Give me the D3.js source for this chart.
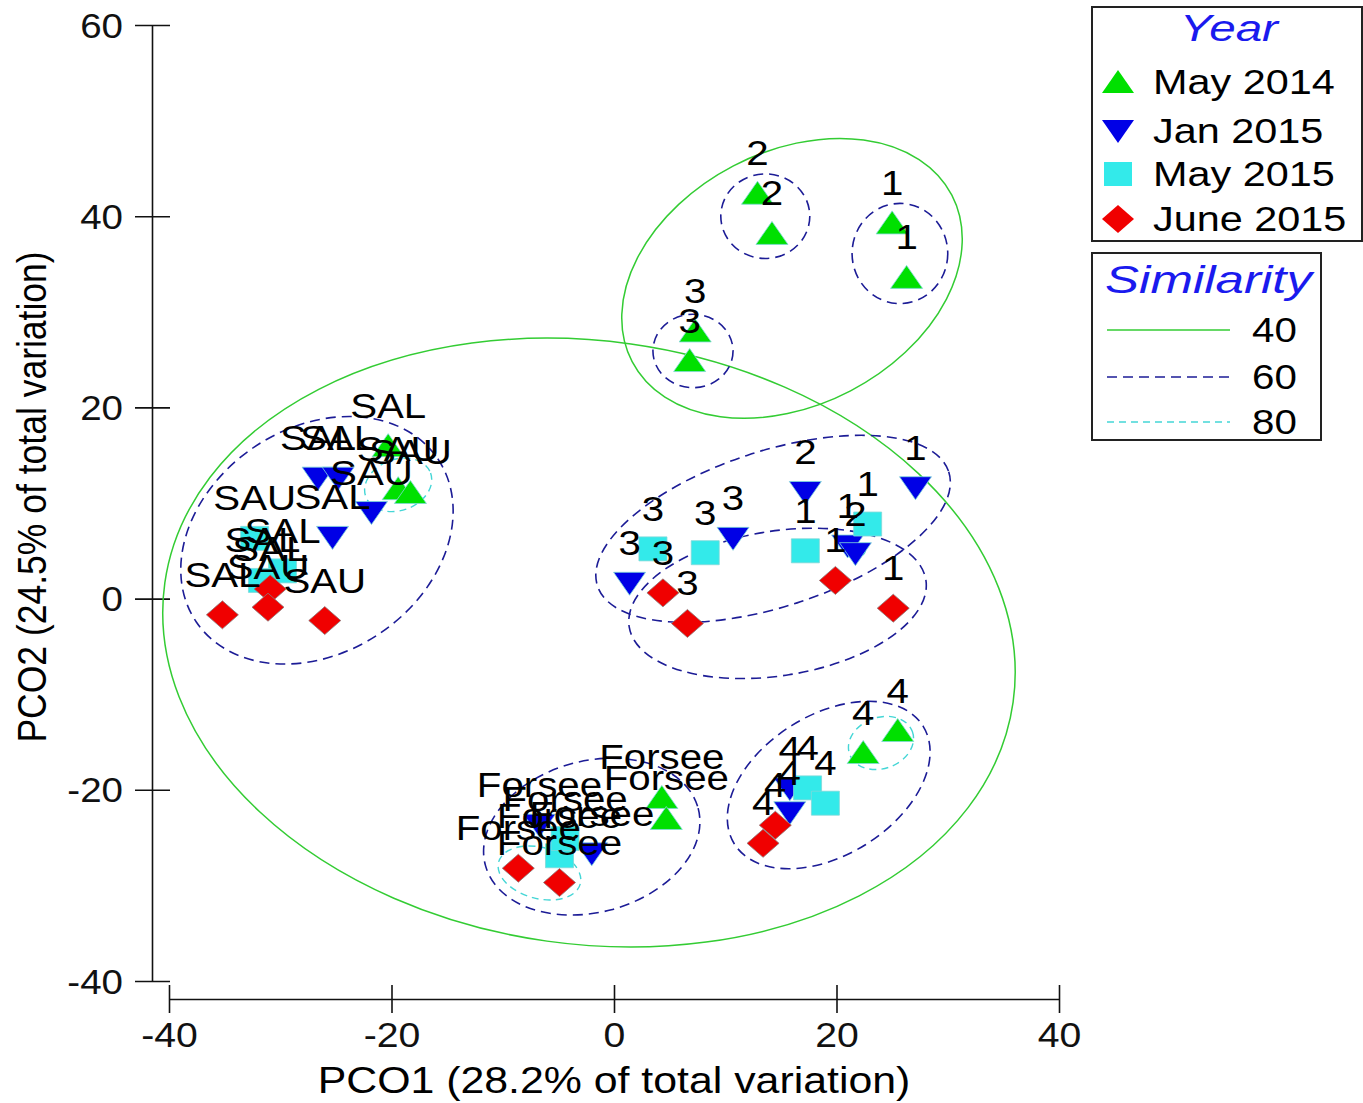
<!DOCTYPE html>
<html lang="en">
<head>
<meta charset="utf-8">
<title>PCO ordination</title>
<script src="https://cdn.jsdelivr.net/npm/d3@7"></script>
<style>
body { margin: 0; background: #fff; }
text { font-family: "Liberation Sans", Arial, sans-serif; }
</style>
</head>
<body>
<script>
// axis ticks
var xTicks = [-40, -20, 0, 20, 40];
var yTicks = [-40, -20, 0, 20, 40, 60];

// groups, legend order
var years = ["May 2014", "Jan 2015", "May 2015", "June 2015"];

// May 2014 (PCO1, PCO2, site label)
var may14X = [25.0, 26.3, 12.9, 14.2, 7.3, 6.8, 25.5, 22.4, 4.3, 4.7, -20.3, -19.4, -18.3];
var may14Y = [39.3, 33.6, 42.4, 38.2, 28.0, 24.9, -13.8, -16.1, -20.8, -23.0, 16.0, 11.5, 11.1];
var may14Site = ["1", "1", "2", "2", "3", "3", "4", "4", "Forsee", "Forsee", "SAL", "SAU", "SAU"];

// Jan 2015
var jan15X = [1.4, 10.7, 17.2, 21.0, 21.7, 27.1, 15.8, 15.8, -2.0, -6.7, -26.6, -24.8, -21.8, -25.3];
var jan15Y = [1.6, 6.3, 11.1, 5.5, 4.7, 11.6, -19.9, -22.4, -26.7, -23.7, 12.6, 12.6, 9.0, 6.4];
var jan15Site = ["3", "3", "2", "1", "2", "1", "4", "4", "Forsee", "Forsee", "SAL", "SAL", "SAU", "SAL"];

// May 2015
var may15X = [3.5, 8.2, 17.2, 22.8, 17.4, 19.0, -4.9, -4.4, -32.3, -29.8, -31.6];
var may15Y = [5.2, 4.8, 5.0, 7.8, -19.8, -21.4, -26.9, -25.1, 6.3, 2.9, 1.9];
var may15Site = ["3", "3", "1", "1", "4", "4", "Forsee", "Forsee", "SAU", "SAL", "SAL"];

// June 2015
var jun15X = [4.4, 6.6, 19.9, 25.1, 14.5, 13.4, -8.6, -4.9, -30.9, -31.1, -35.2, -26.0];
var jun15Y = [0.6, -2.6, 1.9, -1.0, -23.7, -25.6, -28.2, -29.7, 1.0, -0.9, -1.7, -2.3];
var jun15Site = ["3", "3", "1", "1", "4", "4", "Forsee", "Forsee", "SAL", "SAU", "SAL", "SAU"];

// similarity contours: level, centre, semi-axes (PCO1 units), rotation (deg)
var simLevels = [40, 60, 80];
var ellLevel = [40, 40, 60, 60, 60, 60, 60, 60, 60, 60, 80, 80, 80, 80];
var ellX = [-2.25, 16.0, -26.7, 14.3, 14.7, 19.3, -2.0, 13.6, 25.7, 7.1, 24.0, -19.4, -6.7, 21.7];
var ellY = [-4.6, 33.5, 6.1, 7.3, -0.5, -19.5, -24.9, 40.0, 36.1, 25.9, -15.1, 11.9, -28.7, 5.1];
var ellA = [38.5, 16.2, 13.1, 16.6, 13.5, 10.0, 9.9, 4.0, 4.3, 3.6, 3.0, 3.1, 3.8, 0.9];
var ellB = [27.1, 11.4, 10.1, 7.0, 6.5, 6.3, 6.8, 3.8, 4.5, 3.3, 2.3, 2.3, 2.3, 0.7];
var ellAngle = [8, -27.5, -34, -18, -9, -32, -15, 0, 0, 0, -20, -20, 15, 0];

var w = 1363, h = 1103;

var svg = d3.select("body").append("svg")
    .attr("width", w)
    .attr("height", h);

var x = d3.scaleLinear().domain([-40, 40]).range([169, 1059]);
var y = d3.scaleLinear().domain([-40, 60]).range([981, 25]);
var kx = x(1) - x(0);

var series = [
    { name: years[0], shape: "up", color: "#00e000", xs: may14X, ys: may14Y, sites: may14Site },
    { name: years[1], shape: "down", color: "#0000e6", xs: jan15X, ys: jan15Y, sites: jan15Site },
    { name: years[2], shape: "square", color: "#33eaea", xs: may15X, ys: may15Y, sites: may15Site },
    { name: years[3], shape: "diamond", color: "#f00000", xs: jun15X, ys: jun15Y, sites: jun15Site }
];

var levelStyle = {
    40: { stroke: "#33cc33", dash: null, width: 1.5 },
    60: { stroke: "#1c1c96", dash: "10,6", width: 1.6 },
    80: { stroke: "#44d6d6", dash: "7,5", width: 1.4 }
};

function shapePath(s) {
    if (s === "up") return "M0,-12L16,11L-16,11Z";
    if (s === "down") return "M0,12L16,-11L-16,-11Z";
    if (s === "square") return "M-14,-12H14V12H-14Z";
    return "M0,-14L16,0L0,14L-16,0Z";
}

// stretched text helper (picture is a bit wider than tall)
function addText(g, str, px, py, size, sx, anchor) {
    return g.append("text")
        .attr("transform", "translate(" + px + "," + py + ") scale(" + sx + ",1)")
        .attr("text-anchor", anchor || "start")
        .attr("font-size", size + "px")
        .attr("fill", "#000")
        .text(str);
}

// plain hyphen minus like the original
var fmt = function(d) { return String(d); };

// ---- axes ----
var yAxis = svg.append("g")
    .attr("transform", "translate(152,0)")
    .call(d3.axisLeft(y).tickValues(yTicks).tickSize(17).tickSizeOuter(0).tickFormat(fmt));
yAxis.selectAll(".tick line").attr("x1", 18);
yAxis.selectAll(".tick text")
    .attr("x", 0).attr("dy", null)
    .attr("transform", "translate(-29,12) scale(1.1,1)")
    .attr("font-size", "35px").attr("fill", "#111")
    .style("font-family", "'Liberation Sans', Arial, sans-serif");

var xAxis = svg.append("g")
    .attr("transform", "translate(0,999)")
    .call(d3.axisBottom(x).tickValues(xTicks).tickSize(14).tickSizeOuter(0).tickFormat(fmt));
xAxis.selectAll(".tick line").attr("y1", -14);
xAxis.selectAll(".tick text")
    .attr("y", 0).attr("dy", null)
    .attr("transform", "translate(0,48) scale(1.12,1)")
    .attr("font-size", "35px").attr("fill", "#111")
    .style("font-family", "'Liberation Sans', Arial, sans-serif");
svg.selectAll(".domain, .tick line").attr("stroke", "#111").attr("stroke-width", 1.6);

addText(svg, "PCO1 (28.2% of total variation)", x(0), 1093, 36, 1.19, "middle");
svg.append("text")
    .attr("transform", "translate(46,497) scale(1.15,1) rotate(-90)")
    .attr("text-anchor", "middle")
    .attr("font-size", "35.5px")
    .text("PCO2 (24.5% of total variation)");

// ---- similarity contours ----
var ellG = svg.append("g");
ellLevel.forEach(function(lv, i) {
    var st = levelStyle[lv];
    var cx = x(ellX[i]), cy = y(ellY[i]);
    ellG.append("ellipse")
        .attr("cx", cx).attr("cy", cy)
        .attr("rx", ellA[i] * kx).attr("ry", ellB[i] * kx)
        .attr("transform", "rotate(" + ellAngle[i] + "," + cx + "," + cy + ")")
        .attr("fill", "none")
        .attr("stroke", st.stroke)
        .attr("stroke-width", st.width)
        .attr("stroke-dasharray", st.dash);
});

// ---- points ----
var ptG = svg.append("g");
series.forEach(function(s) {
    var pts = s.xs.map(function(v, i) { return { x: v, y: s.ys[i], site: s.sites[i] }; });
    ptG.selectAll(null)
        .data(pts)
        .enter()
        .append("path")
        .attr("d", shapePath(s.shape))
        .attr("transform", function(d) { return "translate(" + x(d.x) + "," + y(d.y) + ")"; })
        .attr("fill", s.color)
        .attr("stroke", s.shape === "diamond" ? "#8a7a7a" : "#7fd8d8")
        .attr("stroke-width", 0.8);
});

// ---- point labels (overlaps are as in the original plot) ----
var labG = svg.append("g");
series.forEach(function(s) {
    s.xs.forEach(function(v, i) {
        addText(labG, s.sites[i], x(v), y(s.ys[i]) - 28, 35, 1.15, "middle");
    });
});

// ---- legend: Year ----
var leg = svg.append("g");
leg.append("rect").attr("x", 1092).attr("y", 7).attr("width", 270).attr("height", 234)
    .attr("fill", "#fff").attr("stroke", "#222").attr("stroke-width", 2);
leg.append("text")
    .attr("x", 1180).attr("y", 41)
    .attr("font-size", "37px").attr("font-style", "italic").attr("fill", "#1a1aee")
    .attr("textLength", 98).attr("lengthAdjust", "spacingAndGlyphs")
    .text("Year");
var legY = [82, 131, 174, 219];
series.forEach(function(s, i) {
    leg.append("path")
        .attr("d", shapePath(s.shape))
        .attr("transform", "translate(1118," + legY[i] + ")")
        .attr("fill", s.color);
    addText(leg, s.name, 1153, legY[i] + 12, 36, 1.15, "start");
});

// ---- legend: Similarity ----
leg.append("rect").attr("x", 1092).attr("y", 253).attr("width", 229).attr("height", 187)
    .attr("fill", "#fff").attr("stroke", "#222").attr("stroke-width", 2);
leg.append("text")
    .attr("x", 1105).attr("y", 293)
    .attr("font-size", "38px").attr("font-style", "italic").attr("fill", "#1a1aee")
    .attr("textLength", 207).attr("lengthAdjust", "spacingAndGlyphs")
    .text("Similarity");
var simY = [330, 377, 422];
simLevels.forEach(function(lv, i) {
    var st = levelStyle[lv];
    leg.append("line")
        .attr("x1", 1107).attr("x2", 1230)
        .attr("y1", simY[i]).attr("y2", simY[i])
        .attr("stroke", st.stroke).attr("stroke-width", st.width)
        .attr("stroke-dasharray", st.dash);
    addText(leg, String(lv), 1252, simY[i] + 12, 36, 1.12, "start");
});
</script>
</body>
</html>
